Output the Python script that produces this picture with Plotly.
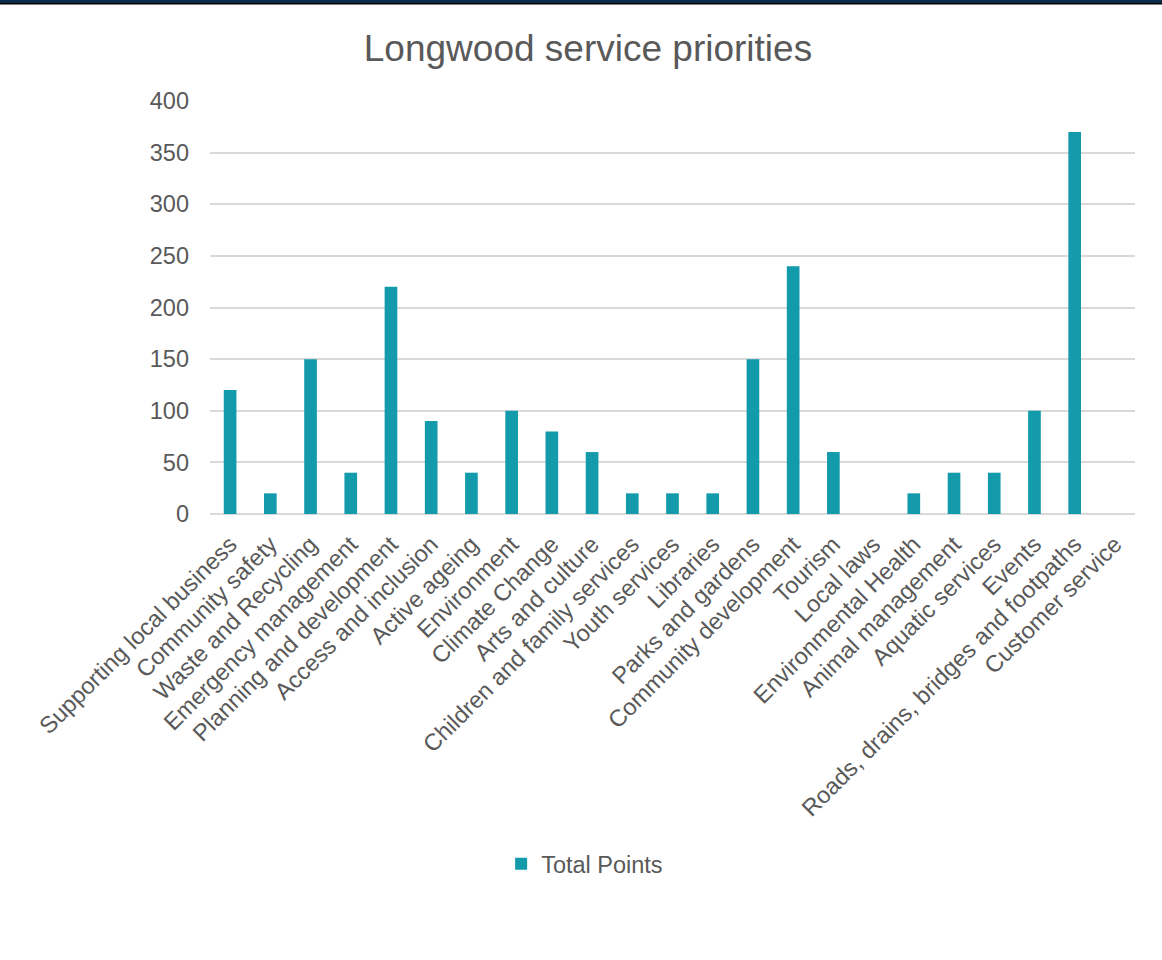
import plotly.graph_objects as go

categories = [
    "Supporting local business", "Community safety", "Waste and Recycling",
    "Emergency management", "Planning and development", "Access and inclusion",
    "Active ageing", "Environment", "Climate Change", "Arts and culture",
    "Children and family services", "Youth services", "Libraries",
    "Parks and gardens", "Community development", "Tourism", "Local laws",
    "Environmental Health", "Animal management", "Aquatic services", "Events",
    "Roads, drains, bridges and footpaths", "Customer service",
]
total_points = [120, 20, 150, 40, 220, 90, 40, 100, 80, 60, 20, 20, 20,
                150, 240, 60, 0, 20, 40, 40, 100, 370, 0]
y_ticks = [0, 50, 100, 150, 200, 250, 300, 350, 400]

W, H = 1162, 960
ML, MR, MT, MB = 210, 27, 101, 446
plot_h = H - MT - MB
plot_w = W - ML - MR

FONT = "Liberation Sans, Arial, sans-serif"
TXT = "#595959"
BAR = "#139AAB"

fig = go.Figure(go.Bar(
    x=categories, y=total_points, name="Total Points",
    marker=dict(color=BAR, line=dict(width=0)),
    showlegend=True,
))

top = 1 + MT / plot_h
px = 1 / plot_h
fig.add_shape(type="rect", xref="paper", yref="paper", x0=-ML / plot_w,
              x1=1 + MR / plot_w, y0=top - 3 * px, y1=top + 2 * px,
              fillcolor="#0c2c4c", line=dict(width=0), layer="above")
fig.add_shape(type="rect", xref="paper", yref="paper", x0=-ML / plot_w,
              x1=1 + MR / plot_w, y0=top - 4.5 * px, y1=top - 3 * px,
              fillcolor="#000000", line=dict(width=0), layer="above")

fig.update_layout(
    width=W, height=H,
    margin=dict(l=ML, r=MR, t=MT, b=MB, pad=0),
    paper_bgcolor="white", plot_bgcolor="white",
    font=dict(family=FONT, color=TXT, size=23.5),
    bargap=0.685,
    title=dict(text="Longwood service priorities", x=0.506, xanchor="center",
               y=1 - 48 / H, yanchor="middle",
               font=dict(family=FONT, size=37, color=TXT)),
    xaxis=dict(tickangle=-45, showgrid=False, showline=False, zeroline=False,
               ticks="", tickfont=dict(size=23.5, color=TXT),
               ticklabelstandoff=11),
    yaxis=dict(range=[0, 400], tickvals=y_ticks, showgrid=True,
               gridcolor="#d9d9d9", gridwidth=1.5, zeroline=True,
               zerolinecolor="#d9d9d9", zerolinewidth=1.5, showline=False,
               ticks="", tickfont=dict(size=23.5, color=TXT),
               ticklabelstandoff=20),
    legend=dict(orientation="h", x=0.405, xanchor="center",
                y=-(864 - (H - MB)) / plot_h, yanchor="middle",
                font=dict(size=23.5, color=TXT), itemwidth=30),
)

fig.write_html("out.html", config={"displayModeBar": False},
               post_script="document.body.style.margin='0';document.body.style.overflow='hidden';")
